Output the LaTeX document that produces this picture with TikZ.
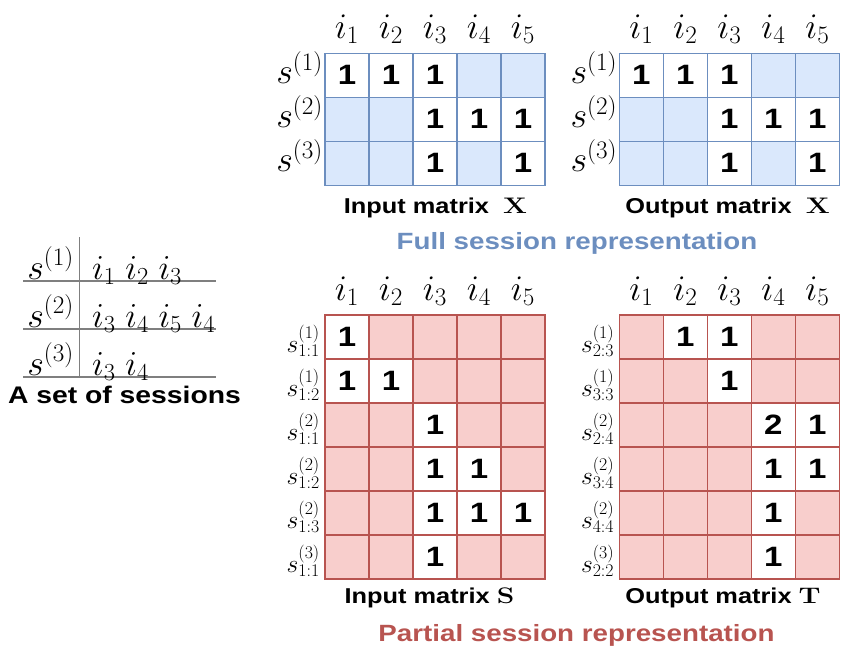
\RequirePackage{fix-cm}
\documentclass[tikz,border=0pt]{standalone}
\usepackage{fontspec}
\newfontfamily\sansfam[FakeStretch=1.18]{Liberation Sans}
\newfontfamily\serifwide[FakeStretch=1.25]{Latin Modern Roman}
\definecolor{fullfill}{HTML}{DAE8FC}
\definecolor{fullline}{HTML}{6C8EBF}
\definecolor{partfill}{HTML}{F8CECC}
\definecolor{partline}{HTML}{B85450}
\definecolor{tabgray}{HTML}{7F7F7F}
\tikzset{
  fullcell/.style={draw=fullline,fill=fullfill,line width=1.2pt,minimum size=44pt,
    inner sep=0pt,font=\fontsize{28}{28}\sansfam\bfseries},
  partcell/.style={fullcell,draw=partline,fill=partfill},
  head/.style={anchor=base,inner sep=0pt,font=\fontsize{36}{36}\selectfont},
  toplab/.style={anchor=base east,inner sep=0pt,xshift=-2pt,yshift=-8pt,
    font=\fontsize{36}{36}\selectfont},
  botlab/.style={anchor=east,inner sep=0pt,xshift=-5pt,yshift=-4pt,
    font=\fontsize{25.5}{25.5}\selectfont},
  matcap/.style={anchor=base,inner sep=0pt,font=\fontsize{21.5}{21.5}\sansfam\bfseries},
  bigcap/.style={anchor=base,inner sep=0pt,font=\fontsize{23.5}{23.5}\sansfam\bfseries},
  tabline/.style={draw=tabgray,line width=1.2pt},
  seslab/.style={anchor=base east,inner sep=0pt,font=\fontsize{36}{36}\selectfont},
  sesitem/.style={anchor=base west,inner sep=0pt,font=\fontsize{35}{35}\selectfont}
}
\newcommand\matname[1]{{\fontsize{22.5}{22.5}\serifwide\bfseries #1}}
\begin{document}
\begin{tikzpicture}[x=1pt,y=-1pt]
  \useasboundingbox (0,0) rectangle (856,663);
  % name, left, top, cell style, rows, row labels, label style
  \def\drawmat#1#2#3#4#5#6#7{%
    \foreach \c in {1,...,5}
      \node[head] (#1-h\c) at ({#2+(\c-0.5)*44},{#3-15}) {$i_\c$};
    \foreach \vals [count=\r] in {#5}
      \foreach \v [count=\c] in \vals {
        \ifnum\v=0
          \node[#4] (#1-\r-\c) at ({#2+(\c-0.5)*44},{#3+(\r-0.5)*44}) {};
        \else
          \node[#4,fill=white] (#1-\r-\c) at ({#2+(\c-0.5)*44},{#3+(\r-0.5)*44}) {\v};
        \fi
      }
    \foreach \lab [count=\r] in {#6}
      \node[#7] (#1-l\r) at (#2,{#3+(\r-0.5)*44}) {$\lab$};
  }
  % full sessions
  \drawmat{xin}{325}{53.3}{fullcell}{{1,1,1,0,0},{0,0,1,1,1},{0,0,1,0,1}}
    {s^{(1)},s^{(2)},s^{(3)}}{toplab}
  \drawmat{xout}{619.3}{53.3}{fullcell}{{1,1,1,0,0},{0,0,1,1,1},{0,0,1,0,1}}
    {s^{(1)},s^{(2)},s^{(3)}}{toplab}
  % partial sessions
  \drawmat{sin}{325}{315}{partcell}
    {{1,0,0,0,0},{1,1,0,0,0},{0,0,1,0,0},{0,0,1,1,0},{0,0,1,1,1},{0,0,1,0,0}}
    {s^{(1)}_{1:1},s^{(1)}_{1:2},s^{(2)}_{1:1},s^{(2)}_{1:2},s^{(2)}_{1:3},s^{(3)}_{1:1}}{botlab}
  \drawmat{tout}{619.3}{315}{partcell}
    {{0,1,1,0,0},{0,0,1,0,0},{0,0,0,2,1},{0,0,0,1,1},{0,0,0,1,0},{0,0,0,1,0}}
    {s^{(1)}_{2:3},s^{(1)}_{3:3},s^{(2)}_{2:4},s^{(2)}_{3:4},s^{(2)}_{4:4},s^{(3)}_{2:2}}{botlab}

  \node[matcap] (capxin) at (435.5,213.3) {Input matrix\ \ \matname{X}};
  \node[matcap] (capxout) at (727.5,213.3) {Output matrix\ \ \matname{X}};
  \node[matcap] (capsin) at (429.5,603) {Input matrix \matname{S}};
  \node[matcap] (captout) at (723,603) {Output matrix \matname{T}};
  \node[bigcap,text=fullline] (fullrep) at (577,249) {Full session representation};
  \node[bigcap,text=partline] (partrep) at (576.5,641) {Partial session representation};

  % set of sessions
  \draw[tabline] (79.3,237) -- (79.3,377);
  \foreach \y in {281,329,377}
    \draw[tabline] (23,\y) -- (216,\y);
  \foreach \its [count=\r] in {{i_1\;i_2\;i_3},{i_3\;i_4\;i_5\;i_4},{i_3\;i_4}} {
    \node[seslab] (ses-s\r) at (74,{231+48*\r}) {$s^{(\r)}$};
    \node[sesitem] (ses-i\r) at (92,{231+48*\r}) {$\its$};
  }
  \node[bigcap,font=\fontsize{24}{24}\sansfam\bfseries] (sessets) at (124.5,403.3) {A set of sessions};
\end{tikzpicture}
\end{document}
